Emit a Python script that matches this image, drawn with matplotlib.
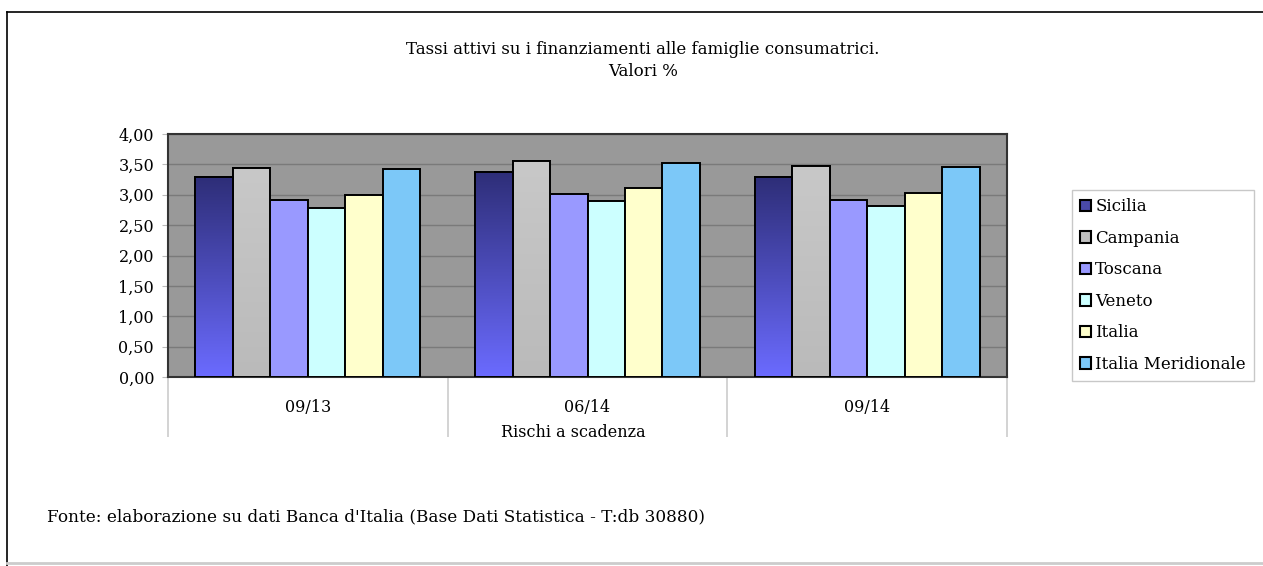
import numpy as np
import matplotlib
matplotlib.use("Agg")
from matplotlib import pyplot as plt
from matplotlib.colors import LinearSegmentedColormap
from matplotlib.lines import Line2D

plt.rcParams["font.family"] = ["DejaVu Serif"]

periods = ["09/13", "06/14", "09/14"]
regions = ["Sicilia", "Campania", "Toscana", "Veneto", "Italia", "Italia Meridionale"]
values = {
    "Sicilia": [3.29, 3.38, 3.29],
    "Campania": [3.44, 3.55, 3.48],
    "Toscana": [2.91, 3.01, 2.92],
    "Veneto": [2.78, 2.90, 2.81],
    "Italia": [3.00, 3.11, 3.03],
    "Italia Meridionale": [3.42, 3.52, 3.45],
}
colors = ["#4a4aa8", "#c0c0c0", "#9999ff", "#ccffff", "#ffffcc", "#7cc8f8"]
# gradients top -> bottom (only where the bars show one)
gradients = {"Sicilia": ("#2e2e78", "#6b6bff"), "Campania": ("#c8c8c8", "#bababa")}

fig = plt.figure(figsize=(12.63, 5.66), dpi=100)
ax = fig.add_axes([168 / 1263, 1 - 377 / 566, (1007 - 168) / 1263, (377 - 134) / 566])
ax.set_facecolor("#999999")

x = np.arange(len(periods))
bw = 0.134
for i, r in enumerate(regions):
    pos = x + (i - 2.5) * bw
    bars = ax.bar(pos, values[r], bw, color=colors[i], edgecolor="black",
                  linewidth=1.4, zorder=3, label=r)
    if r in gradients:
        cmap = LinearSegmentedColormap.from_list(r, [gradients[r][1], gradients[r][0]])
        grad = np.linspace(0, 1, 256).reshape(-1, 1)
        for b in bars:
            x0, w, h = b.get_x(), b.get_width(), b.get_height()
            im = ax.imshow(grad, extent=[x0, x0 + w, 0, h], origin="lower",
                           aspect="auto", cmap=cmap, zorder=3.5)
            im.set_clip_path(b)
            ax.bar(x0 + w / 2, h, w, color="none", edgecolor="black",
                   linewidth=1.4, zorder=4)

ax.set_xlim(-0.5, 2.5)
ax.set_ylim(0, 4)
ax.set_yticks(np.arange(0, 4.01, 0.5))
ax.set_yticklabels([f"{v:.2f}".replace(".", ",") for v in np.arange(0, 4.01, 0.5)],
                   fontsize=11.5)
ax.yaxis.grid(True, color="#7a7a7a", linewidth=1.0, zorder=1)
ax.set_axisbelow(True)
ax.tick_params(axis="y", length=4, color="#bbbbbb", pad=6)

# category separators as long outward ticks, labels at centers
ax.set_xticks([-0.5, 0.5, 1.5, 2.5])
ax.set_xticklabels([])
ax.set_xticks(x, minor=True)
ax.set_xticklabels(periods, minor=True, fontsize=11.5)
ax.tick_params(axis="x", which="major", length=43, color="#cccccc", width=1.2)
ax.tick_params(axis="x", which="minor", length=0, pad=16)
ax.set_xlabel("Rischi a scadenza", fontsize=11.5)
ax.xaxis.set_label_coords(0.483, -0.195)

for s in ax.spines.values():
    s.set_color("#333333")
    s.set_linewidth(1.5)

fig.text(0.509, 1 - 50 / 566, "Tassi attivi su i finanziamenti alle famiglie consumatrici.",
         ha="center", va="center", fontsize=12)
fig.text(0.509, 1 - 72 / 566, "Valori %", ha="center", va="center", fontsize=12)

leg = ax.legend(loc="upper left", bbox_to_anchor=(1072 / 1263, 1 - 190 / 566),
                bbox_transform=fig.transFigure, fontsize=12, frameon=True,
                fancybox=False, edgecolor="#bbbbbb", handlelength=0.65,
                handleheight=0.65, handletextpad=0.25, labelspacing=0.87,
                borderpad=0.5, borderaxespad=0)
for h in leg.legend_handles:
    h.set_linewidth(1.5)

fig.text(47 / 1263, 1 - 517 / 566,
         "Fonte: elaborazione su dati Banca d'Italia (Base Dati Statistica - T:db 30880)",
         ha="left", va="center", fontsize=12.2)

# outer frame
fig.add_artist(Line2D([7 / 1263, 1], [1 - 12 / 566] * 2, color="black", lw=1.2))
fig.add_artist(Line2D([7 / 1263] * 2, [0, 1 - 12 / 566], color="black", lw=1.2))
fig.add_artist(Line2D([7 / 1263, 1], [1 - 563 / 566] * 2, color="#cccccc", lw=2))

fig.savefig("out.png", dpi=100)
